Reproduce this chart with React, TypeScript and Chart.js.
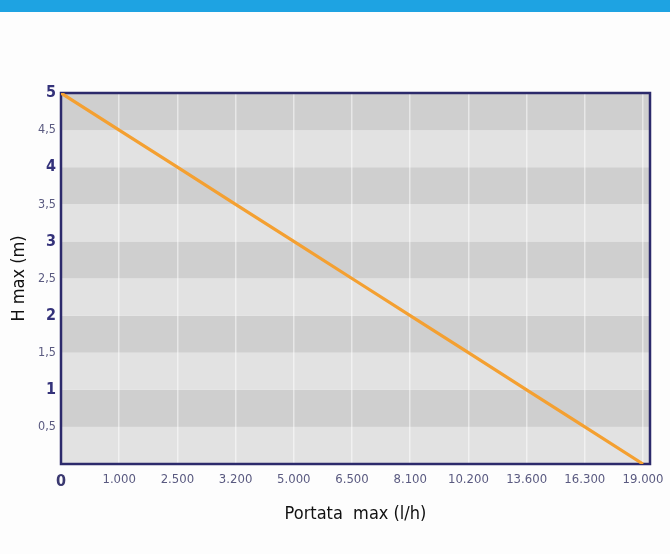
import React, { useEffect, useRef } from "react";
import { Chart, registerables } from "chart.js";

Chart.register(...registerables);

const xLabels = ["0", "1.000", "2.500", "3.200", "5.000", "6.500", "8.100", "10.200", "13.600", "16.300", "19.000"];
const hValues = [5, 4.5, 4, 3.5, 3, 2.5, 2, 1.5, 1, 0.5, 0];
const bandEdges = [0, 0.5, 1, 1.5, 2, 2.5, 3, 3.5, 4, 4.5, 5];

const FONT = "'DejaVu Sans Condensed', 'Liberation Sans Narrow', 'DejaVu Sans', sans-serif";

const bandsPlugin = {
  id: "bands",
  beforeDraw(chart: any) {
    const { ctx, chartArea, scales } = chart;
    const y = scales.y;
    ctx.save();
    ctx.fillStyle = "#fdfdfd";
    ctx.fillRect(0, 0, chart.width, chart.height);
    for (let i = 0; i < bandEdges.length - 1; i++) {
      const y0 = y.getPixelForValue(bandEdges[i]);
      const y1 = y.getPixelForValue(bandEdges[i + 1]);
      ctx.fillStyle = i % 2 === 0 ? "#e2e2e2" : "#cfcfcf";
      ctx.fillRect(chartArea.left, y1, chartArea.right - chartArea.left, y0 - y1);
    }
    ctx.restore();
  },
  beforeDatasetsDraw(chart: any) {
    const { ctx, chartArea } = chart;
    ctx.save();
    ctx.strokeStyle = "#2c2a6b";
    ctx.lineWidth = 2.5;
    ctx.strokeRect(chartArea.left, chartArea.top, chartArea.right - chartArea.left, chartArea.bottom - chartArea.top);
    ctx.restore();
  },
};

const isInt = (c: any) => {
  const v = c && c.tick ? c.tick.value : NaN;
  return Number.isInteger(v);
};

export default function App() {
  const ref = useRef<HTMLCanvasElement | null>(null);
  useEffect(() => {
    document.body.style.margin = "0";
    const chart = new Chart(ref.current as HTMLCanvasElement, {
      type: "line",
      data: {
        datasets: [
          {
            data: hValues.map((v, i) => ({ x: i, y: v })),
            borderColor: "#f4a031",
            borderWidth: 3.2,
            pointRadius: 0,
            tension: 0,
          },
        ],
      },
      options: {
        animation: false,
        responsive: false,
        layout: { padding: { top: 93, right: 20, bottom: 25, left: 0 } },
        plugins: { legend: { display: false }, tooltip: { enabled: false } },
        scales: {
          x: {
            type: "linear",
            min: 0,
            max: 10.12,
            afterBuildTicks: (axis: any) => {
              axis.ticks = xLabels.map((_, i) => ({ value: i }));
            },
            afterFit: (s: any) => {
              s.height = 65;
              s.paddingRight = 0;
              s.paddingLeft = 0;
            },
            border: { display: false },
            grid: { color: "rgba(255,255,255,0.5)", lineWidth: 1.5, drawTicks: false },
            ticks: {
              padding: 8,
              maxRotation: 0,
              autoSkip: false,
              callback: (v: any) => xLabels[v] ?? "",
              color: (c: any) => (c && c.index === 0 ? "#3a3870" : "#5a5a80"),
              font: (c: any) =>
                c && c.index === 0
                  ? { family: FONT, size: 16, weight: "bold" }
                  : { family: FONT, size: 13 },
            },
            title: {
              display: true,
              text: "Portata  max (l/h)",
              color: "#111",
              font: { family: FONT, size: 18 },
            },
          },
          y: {
            min: 0,
            max: 5,
            afterFit: (s: any) => {
              s.width = 61;
            },
            border: { display: false },
            grid: { display: false, drawTicks: false },
            ticks: {
              stepSize: 0.5,
              padding: 5,
              callback: (v: any) => (v === 0 ? "" : String(v).replace(".", ",")),
              color: (c: any) => (isInt(c) ? "#34327a" : "#5a5a80"),
              font: (c: any) =>
                isInt(c)
                  ? { family: FONT, size: 16, weight: "bold" }
                  : { family: FONT, size: 12.5 },
            },
            title: {
              display: true,
              text: "H max (m)",
              color: "#111",
              padding: { top: 9, bottom: 4 },
              font: { family: FONT, size: 18 },
            },
          },
        },
      },
      plugins: [bandsPlugin],
    } as any);
    return () => chart.destroy();
  }, []);
  return (
    <div style={{ position: "relative", width: 670, height: 554 }}>
      <canvas ref={ref} width={670} height={554} style={{ display: "block" }} />
      <div style={{ position: "absolute", left: 0, top: 0, width: 670, height: 12, background: "#1ea3e2" }} />
    </div>
  );
}
